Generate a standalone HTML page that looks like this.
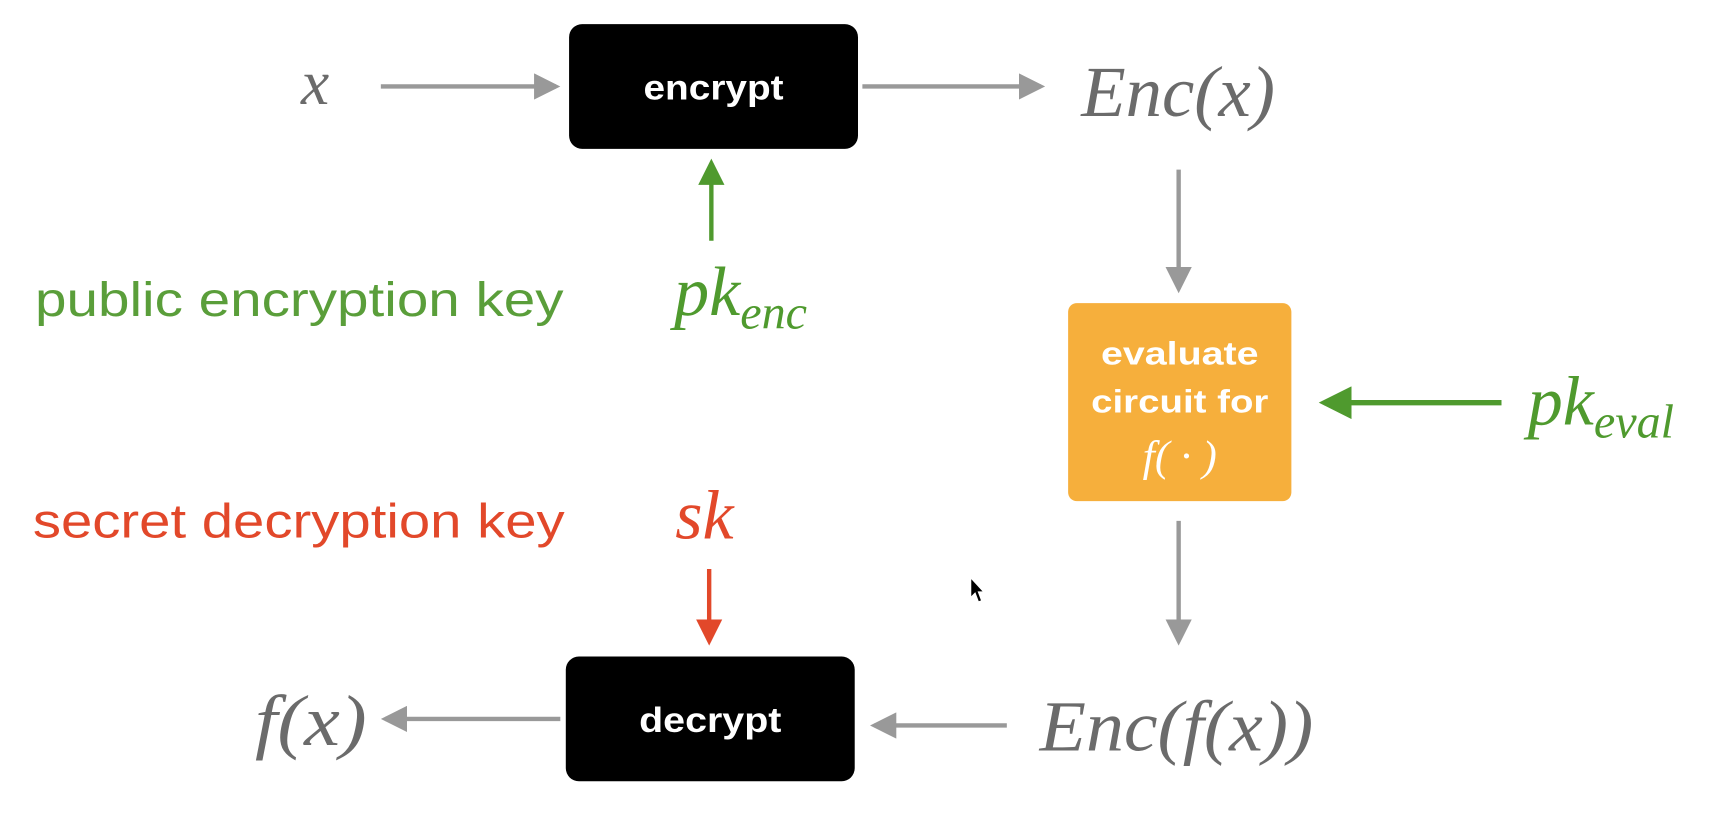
<!DOCTYPE html>
<html><head><meta charset="utf-8"><style>
html,body{margin:0;padding:0;background:#fff;width:1716px;height:836px;overflow:hidden}
svg{display:block}
.m{font-family:"Liberation Serif",serif;font-style:italic;fill:#6b6b6b}
.s{font-family:"Liberation Sans",sans-serif;font-weight:bold;fill:#fff}
.l{font-family:"Liberation Sans",sans-serif}
</style></head><body>
<svg width="1716" height="836" viewBox="0 0 1568 764" preserveAspectRatio="none">
<defs>
<marker id="ag" markerWidth="6" markerHeight="6" refX="5" refY="3" orient="auto" markerUnits="strokeWidth"><path d="M0,0 L6,3 L0,6 z" fill="#999"/></marker>
<marker id="agr" markerWidth="6" markerHeight="6" refX="5" refY="3" orient="auto" markerUnits="strokeWidth"><path d="M0,0 L6,3 L0,6 z" fill="#4f9a2e"/></marker>
<marker id="ar" markerWidth="6" markerHeight="6" refX="5" refY="3" orient="auto" markerUnits="strokeWidth"><path d="M0,0 L6,3 L0,6 z" fill="#e2482a"/></marker>
</defs>
<text class="m" x="275" y="95" font-size="58">x</text>
<line x1="348" y1="79" x2="508" y2="79" stroke="#999" stroke-width="4" marker-end="url(#ag)"/>
<rect x="520" y="22" width="264" height="114" rx="12" fill="#000"/>
<text class="s" x="652" y="91" font-size="32" text-anchor="middle" textLength="128" lengthAdjust="spacingAndGlyphs">encrypt</text>
<line x1="788" y1="79" x2="951" y2="79" stroke="#999" stroke-width="4" marker-end="url(#ag)"/>
<text class="m" x="988" y="106" font-size="66" textLength="177" lengthAdjust="spacingAndGlyphs">Enc(x)</text>
<line x1="650" y1="220" x2="650" y2="149" stroke="#4f9a2e" stroke-width="4" marker-end="url(#agr)"/>
<text class="l" x="32" y="289" font-size="44" fill="#5a9e3a" textLength="483" lengthAdjust="spacingAndGlyphs">public encryption key</text>
<text class="m" x="616" y="288" font-size="64" style="fill:#4f9a2e">pk<tspan font-size="44" dy="12">enc</tspan></text>
<line x1="1077" y1="155" x2="1077" y2="264" stroke="#999" stroke-width="4" marker-end="url(#ag)"/>
<rect x="976" y="277" width="204" height="181" rx="8" fill="#f6af3c"/>
<text class="s" x="1078" y="333" font-size="30" text-anchor="middle" textLength="144" lengthAdjust="spacingAndGlyphs">evaluate</text>
<text class="s" x="1078" y="377" font-size="30" text-anchor="middle" textLength="162" lengthAdjust="spacingAndGlyphs">circuit for</text>
<text class="m" x="1078" y="430" font-size="40" text-anchor="middle" style="fill:#fff">f( · )</text>
<line x1="1372" y1="368" x2="1210" y2="368" stroke="#4f9a2e" stroke-width="5" marker-end="url(#agr)"/>
<text class="m" x="1396" y="388" font-size="64" style="fill:#4f9a2e">pk<tspan font-size="44" dy="12">eval</tspan></text>
<text class="l" x="30" y="491" font-size="44" fill="#e2482a" textLength="486" lengthAdjust="spacingAndGlyphs">secret decryption key</text>
<text class="m" x="617" y="492" font-size="64" style="fill:#e2482a">sk</text>
<line x1="648" y1="520" x2="648" y2="586" stroke="#e2482a" stroke-width="4" marker-end="url(#ar)"/>
<line x1="1077" y1="476" x2="1077" y2="586" stroke="#999" stroke-width="4" marker-end="url(#ag)"/>
<rect x="517" y="600" width="264" height="114" rx="12" fill="#000"/>
<text class="s" x="649" y="669" font-size="32" text-anchor="middle" textLength="130" lengthAdjust="spacingAndGlyphs">decrypt</text>
<line x1="920" y1="663" x2="799" y2="663" stroke="#999" stroke-width="4" marker-end="url(#ag)"/>
<text class="m" x="950" y="686" font-size="66" textLength="250" lengthAdjust="spacingAndGlyphs">Enc(f(x))</text>
<line x1="512" y1="657" x2="352" y2="657" stroke="#999" stroke-width="4" marker-end="url(#ag)"/>
<text class="m" x="233" y="681" font-size="66" textLength="102" lengthAdjust="spacingAndGlyphs">f(x)</text>
<path d="M887,528 L887,546 L891,542 L894,550 L897,549 L894,541 L899,541 Z" fill="#000" stroke="#fff" stroke-width="1"/>
</svg>
</body></html>
